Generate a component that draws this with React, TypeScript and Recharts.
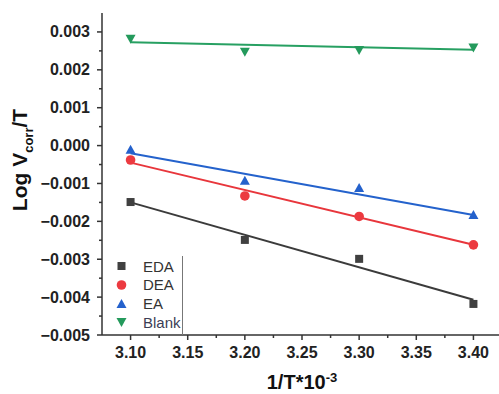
import { ComposedChart, Scatter, XAxis, YAxis } from 'recharts';

// 1/T*10^-3 values
const temps = [3.1, 3.2, 3.3, 3.4];

// measured points (Log Vcorr/T)
const eda = [-0.00149, -0.00249, -0.00299, -0.00418];
const dea = [-0.00038, -0.00133, -0.00187, -0.00262];
const ea = [-0.00011, -0.00093, -0.00112, -0.00183];
const blank = [0.00282, 0.00248, 0.00252, 0.00259];

// linear fit end points (at 3.10 and 3.40)
const fitX = [3.1, 3.4];
const edaFit = [-0.0015, -0.00407];
const deaFit = [-0.00045, -0.00262];
const eaFit = [-0.0002, -0.00183];
const blankFit = [0.00273, 0.00253];

const xMajor = [3.1, 3.15, 3.2, 3.25, 3.3, 3.35, 3.4];
const xMinor = [3.125, 3.175, 3.225, 3.275, 3.325, 3.375, 3.425];
const yMajor = [-0.005, -0.004, -0.003, -0.002, -0.001, 0, 0.001, 0.002, 0.003];
const yMinor = [-0.0045, -0.0035, -0.0025, -0.0015, -0.0005, 0.0005, 0.0015, 0.0025];

const xTicks = [...xMajor, ...xMinor].sort((a, b) => a - b);
const yTicks = [...yMajor, ...yMinor].sort((a, b) => a - b);

const toPts = (xs: number[], ys: number[]) => xs.map((x, i) => ({ x, y: ys[i] }));

const series = [
    { name: 'EDA', pts: eda, fit: edaFit, marker: '#404040', line: '#3b3b3b', shape: 'square' },
    { name: 'DEA', pts: dea, fit: deaFit, marker: '#ec3a40', line: '#e8363c', shape: 'circle' },
    { name: 'EA', pts: ea, fit: eaFit, marker: '#2461cc', line: '#2462cc', shape: 'up' },
    { name: 'Blank', pts: blank, fit: blankFit, marker: '#249a5c', line: '#27a062', shape: 'down' },
];

function Marker({ cx, cy, kind, color }: any) {
    if (kind === 'square') return <rect x={cx - 4} y={cy - 4} width={8} height={8} fill={color} />;
    if (kind === 'circle') return <circle cx={cx} cy={cy} r={4.8} fill={color} />;
    if (kind === 'up') return <polygon points={`${cx},${cy - 5} ${cx + 5},${cy + 4} ${cx - 5},${cy + 4}`} fill={color} />;
    return <polygon points={`${cx},${cy + 5} ${cx + 5},${cy - 4} ${cx - 5},${cy - 4}`} fill={color} />;
}

const near = (a: number, list: number[]) => list.some(v => Math.abs(v - a) < 1e-9);

function XTick({ x, y, payload }: any) {
    const major = near(payload.value, xMajor);
    return (
        <g>
            <line x1={x} x2={x} y1={y} y2={y + (major ? 5 : 3)} stroke="#333" strokeWidth={1.5} />
            {major && (
                <text x={x} y={y + 23} textAnchor="middle" fontSize={16} fontWeight="bold" fill="#222">
                    {payload.value.toFixed(2)}
                </text>
            )}
        </g>
    );
}

function YTick({ x, y, payload }: any) {
    const major = near(payload.value, yMajor);
    const v = payload.value;
    const label = v < -1e-9 ? '\u2212' + Math.abs(v).toFixed(3) : Math.abs(v).toFixed(3);
    return (
        <g>
            <line x1={x} x2={x - (major ? 5 : 3)} y1={y} y2={y} stroke="#333" strokeWidth={1.5} />
            {major && (
                <text x={x - 12} y={y + 5.5} textAnchor="end" fontSize={16} fontWeight="bold" fill="#222">
                    {label}
                </text>
            )}
        </g>
    );
}

export default function App() {
    return (
        <div
            style={{
                position: 'fixed', left: 0, top: 0, width: 499, height: 394,
                overflow: 'hidden', background: '#fff',
                fontFamily: '"Liberation Sans", Arial, sans-serif',
            }}
        >
            <ComposedChart width={505} height={394} margin={{ top: 13, right: 3, left: 0, bottom: 0 }}>
                <XAxis
                    dataKey="x"
                    type="number"
                    domain={[3.075, 3.425]}
                    ticks={xTicks}
                    interval={0}
                    tick={<XTick />}
                    tickLine={false}
                    tickSize={0}
                    tickMargin={0}
                    height={59}
                    axisLine={{ stroke: '#333', strokeWidth: 1.5 }}
                    allowDataOverflow
                />
                <XAxis
                    xAxisId="top"
                    orientation="top"
                    type="number"
                    domain={[3.075, 3.425]}
                    tick={false}
                    tickLine={false}
                    height={0}
                    axisLine={{ stroke: '#555', strokeWidth: 2 }}
                />
                <YAxis
                    dataKey="y"
                    type="number"
                    domain={[-0.005, 0.0035]}
                    ticks={yTicks}
                    interval={0}
                    tick={<YTick />}
                    tickLine={false}
                    tickSize={0}
                    tickMargin={0}
                    width={102}
                    axisLine={{ stroke: '#333', strokeWidth: 1.5 }}
                    allowDataOverflow
                />
                {series.map(s => (
                    <Scatter
                        key={s.name + '-fit'}
                        data={toPts(fitX, s.fit)}
                        line={{ stroke: s.line, strokeWidth: 2 }}
                        shape={() => <g />}
                        isAnimationActive={false}
                    />
                ))}
                {series.map(s => (
                    <Scatter
                        key={s.name}
                        name={s.name}
                        data={toPts(temps, s.pts)}
                        shape={(p: any) => <Marker cx={p.cx} cy={p.cy} kind={s.shape} color={s.marker} />}
                        isAnimationActive={false}
                    />
                ))}
            </ComposedChart>

            {/* legend */}
            <div
                style={{
                    position: 'absolute', left: 103, top: 256, width: 79, height: 79,
                    borderRight: '1px solid #777',
                }}
            >
                {series.map((s, i) => (
                    <div
                        key={s.name}
                        style={{
                            position: 'absolute', left: 0, top: 1 + i * 18.8, height: 18,
                            display: 'flex', alignItems: 'center',
                            fontSize: 15, color: s.name === 'Blank' ? '#3b3d55' : '#333',
                        }}
                    >
                        <svg width={38} height={18}>
                            <Marker cx={18.5} cy={9} kind={s.shape} color={s.marker} />
                        </svg>
                        <span style={{ marginLeft: 2 }}>{s.name}</span>
                    </div>
                ))}
            </div>

            {/* axis titles */}
            <div
                style={{
                    position: 'absolute', left: 22, top: 160, transform: 'translate(-50%, -50%) rotate(-90deg)',
                    whiteSpace: 'nowrap', fontSize: 21, fontWeight: 'bold', color: '#111',
                }}
            >
                Log V<sub style={{ fontSize: 13 }}>corr</sub>/T
            </div>
            <div
                style={{
                    position: 'absolute', left: 302, top: 382, transform: 'translate(-50%, -50%)',
                    whiteSpace: 'nowrap', fontSize: 20, fontWeight: 'bold', color: '#111',
                }}
            >
                1/T*10<sup style={{ fontSize: 13 }}>-3</sup>
            </div>
        </div>
    );
}
